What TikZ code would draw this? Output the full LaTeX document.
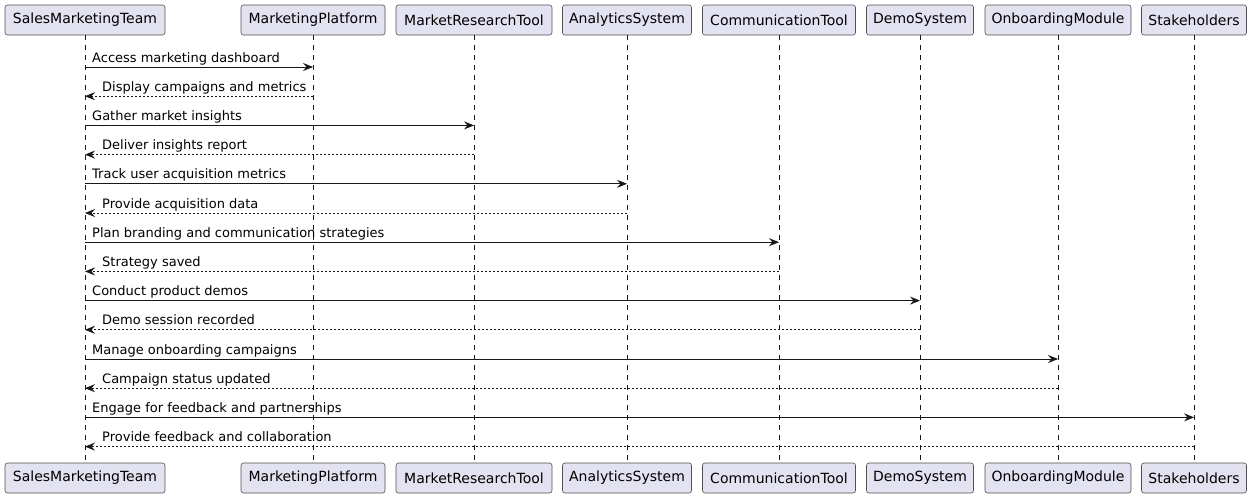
\documentclass[tikz,border=0pt]{standalone}
\usepackage{fontspec}
\setmainfont{DejaVu Sans}
\usetikzlibrary{arrows.meta}
\definecolor{boxfill}{HTML}{E2E2F0}
\definecolor{ink}{HTML}{181818}
\definecolor{boxline}{HTML}{505050}
\tikzset{
  part/.style={draw=boxline, fill=boxfill, line width=0.6pt, rounded corners=2.5pt,
    minimum height=30pt, inner sep=0pt, font=\fontsize{14pt}{16pt}\selectfont, text=black},
  life/.style={draw=ink, line width=0.5pt, dash pattern=on 5pt off 5pt},
  msg/.style={draw=ink, line width=0.9pt, -{Stealth[length=10pt,width=8pt,inset=3.5pt]}},
  ret/.style={msg, dash pattern=on 2pt off 2pt},
  lbl/.style={font=\fontsize{13pt}{15pt}\selectfont, inner sep=0pt, anchor=base west, text=black}
}
\begin{document}
\begin{tikzpicture}[x=1pt,y=-1pt]
\useasboundingbox (0,0) rectangle (1252,498);
% participants (top)
\node[part, minimum width=160pt] (smt) at (85,20) {SalesMarketingTeam};
\node[part, minimum width=144pt] (mpt) at (313,20) {MarketingPlatform};
\node[part, minimum width=156pt] (mrt) at (474,20) {MarketResearchTool};
\node[part, minimum width=129pt] (ast) at (627,20) {AnalyticsSystem};
\node[part, minimum width=153pt] (ctt) at (779,20) {CommunicationTool};
\node[part, minimum width=107pt] (dst) at (920,20) {DemoSystem};
\node[part, minimum width=146pt] (omt) at (1058,20) {OnboardingModule};
\node[part, minimum width=105pt] (sht) at (1194,20) {Stakeholders};
% participants (bottom)
\node[part, minimum width=160pt] (smb) at (85,478) {SalesMarketingTeam};
\node[part, minimum width=144pt] (mpb) at (313,478) {MarketingPlatform};
\node[part, minimum width=156pt] (mrb) at (474,478) {MarketResearchTool};
\node[part, minimum width=129pt] (asb) at (627,478) {AnalyticsSystem};
\node[part, minimum width=153pt] (ctb) at (779,478) {CommunicationTool};
\node[part, minimum width=107pt] (dsb) at (920,478) {DemoSystem};
\node[part, minimum width=146pt] (omb) at (1058,478) {OnboardingModule};
\node[part, minimum width=105pt] (shb) at (1194,478) {Stakeholders};
% lifelines
\foreach \a/\b in {smt/smb,mpt/mpb,mrt/mrb,ast/asb,ctt/ctb,dst/dsb,omt/omb,sht/shb}
  \draw[life] (\a.south) -- (\b.north);
% messages
\foreach \tgt/\ya/\yb/\ta/\tb in {
  mpt/67/96.2/{Access marketing dashboard}/{Display campaigns and metrics},
  mrt/125.4/154.6/{Gather market insights}/{Deliver insights report},
  ast/183.8/213/{Track user acquisition metrics}/{Provide acquisition data},
  ctt/242.2/271.4/{Plan branding and communication strategies}/{Strategy saved},
  dst/300.6/329.8/{Conduct product demos}/{Demo session recorded},
  omt/359/388.2/{Manage onboarding campaigns}/{Campaign status updated},
  sht/417.4/446.6/{Engage for feedback and partnerships}/{Provide feedback and collaboration}} {
  \draw[msg] (smt.south |- 0,\ya) -- (\tgt.south |- 0,\ya);
  \node[lbl] at ([xshift=7pt,yshift=5pt]smt.south |- 0,\ya) {\ta};
  \draw[ret] (\tgt.south |- 0,\yb) -- (smt.south |- 0,\yb);
  \node[lbl] at ([xshift=17pt,yshift=5pt]smt.south |- 0,\yb) {\tb};
}
\end{tikzpicture}
\end{document}
